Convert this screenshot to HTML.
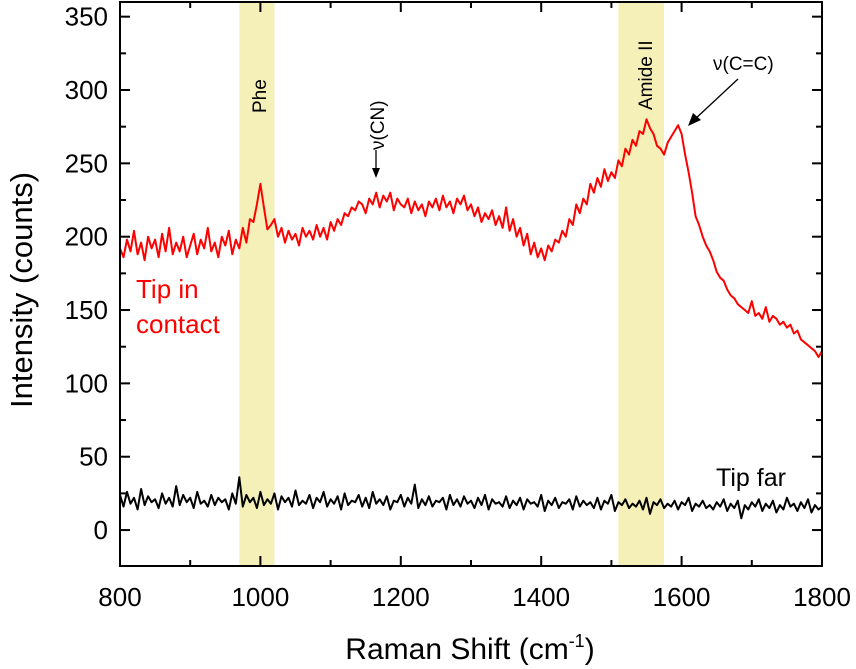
<!DOCTYPE html>
<html><head><meta charset="utf-8"><style>
body{margin:0;background:#fff}
svg{display:block;font-family:"Liberation Sans",Arial,sans-serif}
</style></head><body>
<svg id="chart" width="856" height="669" viewBox="0 0 856 669">
<g id="bands"></g><g id="series"></g><g id="axes"></g><g id="ann"></g>
</svg>
<script>
const xTicks=[800,1000,1200,1400,1600,1800];
const yTicks=[0,50,100,150,200,250,300,350];
const bands=[[970,1020],[1510,1575]];
const xStart=800, xStep=5;
const redVals=[192,186,198,190,204,188,196,184,200,192,198,186,202,190,206,188,196,190,200,186,194,202,188,198,192,206,190,196,186,200,194,204,188,
198,192,206,196,212,210,222,
236,220,205,208,212,
200,206,196,204,198,202,194,206,200,204,198,208,200,206,198,210,
204,212,208,216,214,220,218,224,222,216,226,222,230,220,228,224,230,218,226,222,
220,226,216,224,218,222,214,224,220,226,218,228,220,224,216,226,222,228,218,222,
214,220,210,216,212,218,208,214,206,220,204,212,200,206,194,202,188,196,186,192,
184,194,190,198,196,204,200,212,208,222,216,226,222,236,230,240,234,246,238,244,
240,252,248,260,256,266,262,272,270,280,274,270,262,260,256,264,268,272,276,270,
256,244,230,214,208,200,194,190,184,176,172,170,164,160,158,154,152,150,148,156,
146,148,144,152,142,146,144,140,142,138,140,134,136,130,128,126,124,122,118,122];
const blackVals=[24,16,26,18,22,14,28,17,23,19,21,15,25,18,22,16,30,17,24,19,22,15,26,18,20,16,24,17,22,19,21,14,25,18,36,16,24,19,22,15,26,17,21,18,25,14,23,19,22,16,27,17,20,18,24,15,22,19,26,16,21,18,23,14,25,17,20,19,24,16,22,15,26,18,21,17,23,14,20,19,24,16,22,18,31,15,21,17,23,16,20,19,22,14,24,17,21,16,23,18,20,15,22,17,24,14,21,18,19,16,23,15,20,17,22,14,21,18,19,16,24,13,20,17,22,15,19,18,21,14,23,16,20,17,19,15,22,14,20,18,24,13,19,17,21,15,18,16,20,14,22,11,19,17,21,15,18,16,20,14,19,17,22,13,18,16,20,15,17,14,19,16,21,13,18,15,20,8,17,14,19,16,21,13,18,15,20,12,17,14,22,16,18,13,19,15,21,12,17,14,16];
const X0=120,X1=822,Y0=566,Y1=2,xmin=800,xmax=1800,ymin=-24.5,ymax=360;
const sx=v=>X0+(v-xmin)/(xmax-xmin)*(X1-X0);
const sy=v=>Y0-(v-ymin)/(ymax-ymin)*(Y0-Y1);
const NS='http://www.w3.org/2000/svg';
function mk(t,a,p){const e=document.createElementNS(NS,t);for(const k in a)e.setAttribute(k,a[k]);p.appendChild(e);return e;}
const gb=document.getElementById('bands'),gs=document.getElementById('series'),ga=document.getElementById('axes');
bands.forEach(b=>{const r=mk('rect',{x:sx(b[0]),y:Y1,width:sx(b[1])-sx(b[0]),height:Y0-Y1,fill:'#f5f0b8'},gb);

});
function line(vals,color,name){const d=vals.map((v,i)=>(i?'L':'M')+sx(xStart+i*xStep).toFixed(1)+','+sy(v).toFixed(1)).join('');
const p=mk('path',{d:d,fill:'none',stroke:color,'stroke-width':2,'stroke-linejoin':'round'},gs);

}
line(redVals,'#ff0000','tip-in-contact-line');
line(blackVals,'#000000','tip-far-line');
const fr=mk('rect',{x:X0,y:Y1,width:X1-X0,height:Y0-Y1,fill:'none',stroke:'#000','stroke-width':2},ga);


for(let v=800;v<=1800;v+=100){const x=sx(v),L=v%200==0?10:6;
mk('line',{x1:x,x2:x,y1:Y0,y2:Y0-L,stroke:'#000','stroke-width':2},ga);
mk('line',{x1:x,x2:x,y1:Y1,y2:Y1+L,stroke:'#000','stroke-width':2},ga);}
xTicks.forEach(v=>{const t=mk('text',{x:sx(v),y:606,'text-anchor':'middle','font-size':26},ga);t.textContent=v;

});
for(let v=-25;v<=350;v+=25){if(v<ymin)continue;const y=sy(v),L=v%50==0?10:6;
mk('line',{x1:X0,x2:X0+L,y1:y,y2:y,stroke:'#000','stroke-width':2},ga);
mk('line',{x1:X1,x2:X1-L,y1:y,y2:y,stroke:'#000','stroke-width':2},ga);}
yTicks.forEach(v=>{const t=mk('text',{x:108,y:sy(v)+9,'text-anchor':'end','font-size':26},ga);t.textContent=v;

});
</script>
<svg style="position:absolute;left:0;top:0" width="856" height="669">
<text x="470" y="659" text-anchor="middle" font-size="30">Raman Shift (cm<tspan dy="-12" font-size="18">-1</tspan><tspan dy="12">)</tspan></text>
<text transform="translate(32,290) rotate(-90)" text-anchor="middle" font-size="31">Intensity (counts)</text>
<text transform="translate(266,113) rotate(-90)" font-size="19">Phe</text>
<text transform="translate(652,110) rotate(-90)" font-size="19">Amide II</text>
<text transform="translate(384,150) rotate(-90)" font-size="19">ν(CN)</text>
<line x1="376" y1="150" x2="376" y2="172" stroke="#000" stroke-width="1.3"/>
<polygon points="372,168 380,168 376,178" fill="#000"/>
<text x="713" y="70" font-size="19">ν(C=C)</text>
<line x1="738" y1="79" x2="694" y2="120" stroke="#000" stroke-width="1.3"/>
<polygon points="688,126 693,113 701,120" fill="#000"/>
<text x="136" y="298" font-size="26" fill="#ff0000">Tip in</text>
<text x="136" y="333" font-size="26" fill="#ff0000">contact</text>
<text x="716" y="486" font-size="25">Tip far</text>
</svg>
</body></html>
